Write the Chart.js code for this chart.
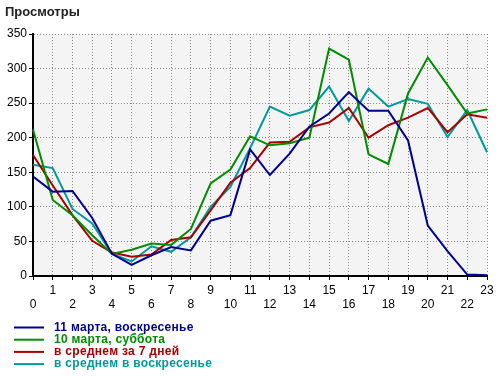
<!DOCTYPE html>
<html>
<head>
<meta charset="utf-8">
<title>Просмотры</title>
<script src="https://cdn.jsdelivr.net/npm/chart.js@4/dist/chart.umd.min.js"></script>
<style>
  body { margin: 0; background: #fff; }
  #wrap { width: 500px; height: 376px; }
</style>
</head>
<body>
<div id="wrap"><canvas id="canvas" width="500" height="376"></canvas></div>
<script>
// hours of the day
var hours = ['0','1','2','3','4','5','6','7','8','9','10','11','12','13','14','15','16','17','18','19','20','21','22','23'];
var yTicks = [0, 50, 100, 150, 200, 250, 300, 350];

// views per hour
var sunday11 = [144,122,123,84,32,16,30,42,37,80,88,183,146,177,216,235,266,239,239,196,73,36,2,1];
var saturday10 = [212,110,88,59,32,38,47,45,68,134,154,202,189,192,200,329,313,176,162,264,316,276,235,241];
var avg7days = [175,131,88,51,34,28,31,52,56,95,135,156,193,194,215,222,243,200,218,229,243,208,234,229];
var avgSundays = [161,156,97,76,32,21,43,35,56,100,129,185,245,232,240,274,224,271,245,256,249,201,240,179];

var seriesNames = ['11 марта, воскресенье', '10 марта, суббота', 'в среднем за 7 дней', 'в среднем в воскресенье'];
var seriesColors = ['#00008f', '#008c00', '#a80000', '#009a9a'];

var FONT = '"Liberation Sans", Arial, sans-serif';

function line(i, data) {
  return {
    label: seriesNames[i],
    data: data,
    borderColor: seriesColors[i],
    backgroundColor: seriesColors[i],
    borderWidth: 2,
    pointRadius: 0,
    tension: 0,
    fill: false
  };
}

// grey plot background
var plotBg = {
  id: 'plotBg',
  beforeDraw: function(chart) {
    var a = chart.chartArea, ctx = chart.ctx;
    ctx.save();
    ctx.fillStyle = '#f4f4f4';
    ctx.fillRect(a.left, a.top, a.right - a.left, a.bottom - a.top);
    ctx.restore();
  }
};

// legend as a column under the chart
var columnLegend = {
  id: 'columnLegend',
  afterDraw: function(chart) {
    var ctx = chart.ctx;
    ctx.save();
    chart.data.datasets.forEach(function(ds, i) {
      var y = 327.5 + i * 12.2;
      ctx.strokeStyle = ds.borderColor;
      ctx.lineWidth = 2;
      ctx.beginPath();
      ctx.moveTo(14, y);
      ctx.lineTo(44, y);
      ctx.stroke();
      ctx.fillStyle = ds.borderColor;
      ctx.font = 'bold 12px ' + FONT;
      ctx.letterSpacing = '0.3px';
      ctx.textBaseline = 'middle';
      ctx.fillText(ds.label, 54, y);
    });
    ctx.restore();
  }
};

var ctx = document.getElementById('canvas').getContext('2d');
window.myChart = new Chart(ctx, {
  type: 'line',
  data: {
    labels: hours,
    datasets: [line(0, sunday11), line(1, saturday10), line(2, avg7days), line(3, avgSundays)]
  },
  plugins: [plotBg, columnLegend],
  options: {
    responsive: false,
    animation: false,
    devicePixelRatio: 1,
    layout: { padding: { left: 5, right: 13, top: 0, bottom: 60 } },
    plugins: {
      legend: { display: false },
      tooltip: { enabled: false },
      title: {
        display: true,
        text: 'Просмотры',
        align: 'start',
        color: '#222',
        font: { family: FONT, size: 13, weight: 'bold', lineHeight: 1.2 },
        padding: { top: 5, bottom: 13.4 }
      }
    },
    scales: {
      x: {
        offset: false,
        afterFit: function(scale) { scale.height = 40; },
        grid: { color: '#888', lineWidth: 1, tickLength: 4, tickColor: '#000', tickBorderDash: [] },
        border: { display: true, color: '#000', width: 2, dash: [1, 2] },
        ticks: {
          autoSkip: false,
          maxRotation: 0,
          padding: 4.5,
          color: '#000',
          font: { family: FONT, size: 12, lineHeight: 1.1 },
          callback: function(val, idx) {
            var lab = this.getLabelForValue(val);
            return idx % 2 ? [lab, ''] : ['', lab];
          }
        }
      },
      y: {
        min: 0,
        max: 350,
        afterFit: function(scale) { scale.width = 28; },
        afterBuildTicks: function(scale) {
          scale.ticks = yTicks.map(function(v) { return { value: v }; });
        },
        grid: { color: '#888', lineWidth: 1, tickLength: 4, tickColor: '#000', tickBorderDash: [] },
        border: { display: true, color: '#000', width: 2, dash: [1, 2] },
        ticks: {
          padding: 2,
          color: '#000',
          font: { family: FONT, size: 12 }
        }
      }
    }
  }
});
</script>
</body>
</html>
